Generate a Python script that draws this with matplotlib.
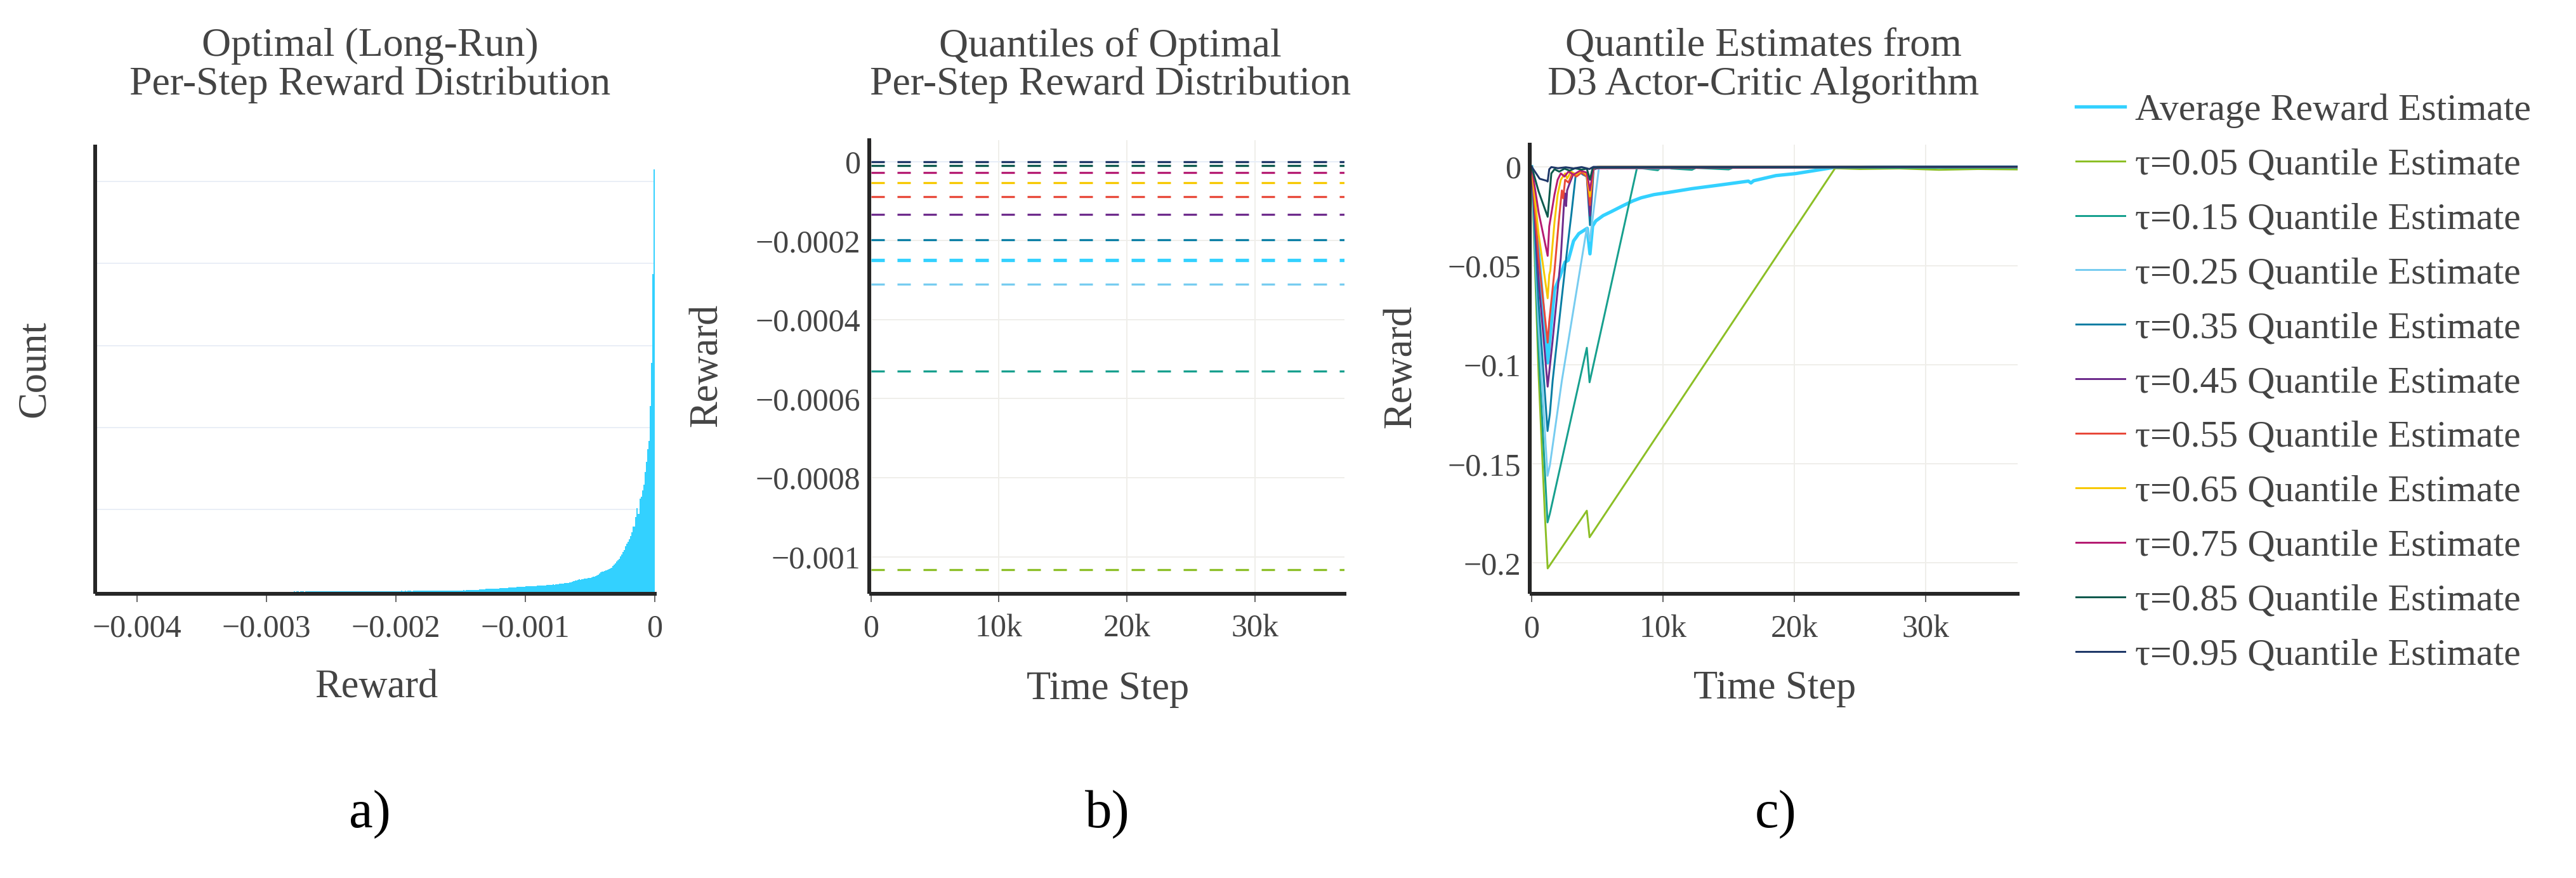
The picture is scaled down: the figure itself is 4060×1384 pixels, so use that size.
import numpy as np
import matplotlib
matplotlib.use("Agg")
import matplotlib.pyplot as plt

plt.rcParams['font.family'] = ['Liberation Serif', 'DejaVu Serif']
plt.rcParams['lines.scale_dashes'] = False

W, H = 4060, 1384
DPI = 100

# ---------------- data ----------------
# a) histogram of per-step reward, counts per bin (bins 1e-5 wide, left to right, last bin ends at 0)
bin_width = 1e-5
hist_counts = [
    0, 1, 0, 1, 1, 0, 1, 1, 1, 0, 1, 1, 1, 2, 1, 1, 1, 2, 1, 2, 2, 1, 2, 2, 2, 1, 2, 2, 3, 2,
    2, 3, 2, 3, 3, 2, 3, 3, 3, 4, 3, 3, 4, 3, 4, 4, 3, 4, 4, 4, 5, 4, 4, 5, 4, 5, 5, 4, 5, 5,
    5, 6, 5, 5, 6, 5, 6, 6, 5, 6, 6, 6, 7, 6, 6, 7, 6, 7, 7, 6,
    7, 7, 6, 7, 8, 7, 7, 8, 7, 8, 8, 8, 7, 8, 9, 8, 8, 9, 8, 9, 9, 8, 9, 10, 9, 9, 10, 9, 10, 10,
    9, 10, 11, 10, 10, 11, 10,
    11, 11, 12, 11, 12, 13, 12, 13, 13, 14, 13, 14, 15, 14, 15, 16, 15,
    16, 17, 18, 17, 19, 20, 21, 20, 22, 23, 24, 25, 27,
    30, 29, 31, 32, 31, 33, 34, 33, 35, 36, 37, 36, 38,
    40, 42, 41, 43, 44, 45, 44, 47, 48, 49, 51, 52, 54,
    57, 56, 58, 59, 58, 60, 61,
    62, 63, 62, 64, 65, 66, 65, 67, 68,
    70, 71, 72, 71, 74, 75, 76, 78, 79, 80,
    82, 84, 86, 85, 88, 90, 92,
    95, 97, 96, 100, 102, 105, 104, 108, 112,
    116, 118, 125, 134, 138, 142,
    147, 145, 150, 153, 156, 158, 160, 164, 166, 170,
    173, 178, 185, 190, 196, 205, 220,
    237, 240, 245, 252, 258, 265,
    276, 282, 292, 310, 330, 345,
    366, 380, 400, 430, 455, 480,
    510, 550, 585, 610, 640,
    675, 720, 790,
    790, 910, 1020, 950, 1130, 1160, 1230, 1300, 1460, 1580, 1740, 1840, 2260, 2790, 3870, 5150,
]
a_xticks = [-0.004, -0.003, -0.002, -0.001, 0]
a_xticklabels = ['\u22120.004', '\u22120.003', '\u22120.002', '\u22120.001', '0']
a_grid_counts = [1000, 2000, 3000, 4000, 5000]

# b) true quantiles of the optimal per-step reward distribution
taus = ['0.05', '0.15', '0.25', '0.35', '0.45', '0.55', '0.65', '0.75', '0.85', '0.95']
true_quantiles = [-0.001032, -0.00053, -0.00031, -0.000198, -0.000134,
                  -0.0000883, -0.0000539, -0.0000278, -0.0000106, -0.000001]
true_avg_reward = -0.00025
b_yticks = [0, -0.0002, -0.0004, -0.0006, -0.0008, -0.001]
b_yticklabels = ['0', '\u22120.0002', '\u22120.0004', '\u22120.0006', '\u22120.0008', '\u22120.001']

time_ticks = [0, 10000, 20000, 30000]
time_ticklabels = ['0', '10k', '20k', '30k']
t_max = 37000

# c) estimates from the D3 actor-critic run (time step, reward)
avg_t = [0, 1220, 1740, 2140, 2540, 2790, 3190, 3590, 4230, 4440, 4640, 4880, 5440, 6090, 6890,
         7700, 8340, 9310, 10430, 12200, 14500, 16500, 16700, 16900, 18600, 20100, 23000, 26000, 37000]
avg_r = [0, -0.099, -0.0621, -0.0557, -0.0482, -0.0472, -0.0375, -0.0338, -0.0311, -0.044, -0.030,
         -0.0274, -0.0247, -0.0226, -0.0199, -0.0173, -0.0157, -0.0141, -0.013, -0.0111, -0.0091,
         -0.0073, -0.0082, -0.0071, -0.0045, -0.0035, -0.0004, -0.00025, -0.00025]

q05_t = [0, 530, 1010, 1220, 4200, 4410, 23100, 25000, 28000, 31000, 34000, 37000]
q05_r = [0, -0.105, -0.176, -0.2027, -0.1736, -0.187, -0.0008, -0.0012, -0.0009, -0.0016, -0.0012, -0.0014]

q15_t = [0, 530, 1210, 1390, 4200, 4410, 8020, 8600, 9600, 9800, 12200, 12500, 15000, 15300, 37000]
q15_r = [0, -0.093, -0.1795, -0.175, -0.0914, -0.1088, -0.0006, -0.0010, -0.0018, -0.0006,
         -0.0016, -0.0006, -0.0014, -0.0006, -0.00053]

q25_t = [0, 530, 1210, 1390, 2300, 4200, 4430, 5120, 10500, 10700, 37000]
q25_r = [0, -0.081, -0.156, -0.1506, -0.108, -0.031, -0.0375, -0.0007, -0.0009, -0.0003, -0.00031]

q35_t = [0, 530, 1210, 1390, 1600, 2220, 2700, 3030, 3350, 3600, 3900, 4200, 4440, 4720, 5200, 37000]
q35_r = [0, -0.069, -0.1334, -0.1245, -0.108, -0.0706, -0.042, -0.0237, -0.0045, -0.0025,
         -0.004, -0.005, -0.0295, -0.0015, -0.0003, -0.0002]

q45_t = [0, 530, 1220, 1580, 1900, 2220, 2460, 2540, 2620, 2700, 2870, 3190, 3500, 3800, 4200,
         4440, 4700, 5200, 37000]
q45_r = [0, -0.057, -0.111, -0.0888, -0.0674, -0.046, -0.019, -0.0135, -0.0199, -0.012, -0.0088,
         -0.0034, -0.0045, -0.0025, -0.004, -0.0247, -0.001, -0.0002, -0.000134]

q55_t = [0, 530, 1220, 1340, 1740, 2060, 2300, 2400, 2550, 2800, 3100, 3400, 3800, 4200, 4440,
         4700, 5100, 37000]
q55_r = [0, -0.046, -0.0888, -0.0781, -0.0525, -0.028, -0.012, -0.016, -0.0066, -0.008, -0.0035,
         -0.005, -0.003, -0.005, -0.0194, -0.001, -0.0002, -0.000088]

q65_t = [0, 530, 1220, 1340, 1420, 1740, 1980, 2220, 2550, 2700, 3000, 3400, 3800, 4200, 4440,
         4700, 5000, 37000]
q65_r = [0, -0.034, -0.0664, -0.0546, -0.0525, -0.028, -0.0141, -0.0066, -0.0034, -0.006, -0.0025,
         -0.004, -0.002, -0.004, -0.015, -0.001, -0.0001, -0.000054]

q75_t = [0, 530, 1220, 1340, 1500, 1740, 1980, 2220, 2500, 2800, 3200, 3700, 4200, 4440, 4700, 37000]
q75_r = [0, -0.023, -0.045, -0.0301, -0.0237, -0.0141, -0.0066, -0.0034, -0.005, -0.0025, -0.004,
         -0.002, -0.003, -0.012, -0.0008, -0.000028]

q85_t = [0, 530, 1220, 1340, 1500, 1740, 2100, 2500, 2900, 3300, 3800, 4200, 4440, 4650, 37000]
q85_r = [0, -0.0125, -0.0253, -0.0157, -0.0034, -0.0013, -0.0025, -0.001, -0.002, -0.0008, -0.0015,
         -0.001, -0.0066, -0.0005, -0.000011]

q95_t = [0, 610, 1130, 1220, 1340, 1500, 2000, 2600, 3200, 3800, 4400, 4700, 37000]
q95_r = [0, -0.0061, -0.0071, -0.0075, -0.0013, -0.0002, -0.0008, -0.0003, -0.0009, -0.0002,
         -0.0012, -0.0001, -0.000002]

c_yticks = [0, -0.05, -0.1, -0.15, -0.2]
c_yticklabels = ['0', '\u22120.05', '\u22120.1', '\u22120.15', '\u22120.2']

legend_labels = ['Average Reward Estimate'] + ['\u03c4=' + t + ' Quantile Estimate' for t in taus]

# ---------------- style ----------------
AVG_COLOR = '#33D1FF'
Q_COLORS = ['#8CBF26', '#17A08E', '#77CCF0', '#0A7EA4', '#6E2C8C',
            '#E8493A', '#F7C800', '#B51C72', '#0E5A4E', '#1F3868']
TEXT = '#444444'
SPINE = '#262626'
GRID = '#EFEEEA'


def pt(px):
    return px * 72 / DPI


def px_rect(x0, x1, y0, y1):
    return [x0 / W, 1 - y1 / H, (x1 - x0) / W, (y1 - y0) / H]


def style_axes(ax):
    for side in ['top', 'right']:
        ax.spines[side].set_visible(False)
    for side in ['left', 'bottom']:
        sp = ax.spines[side]
        sp.set_linewidth(pt(6))
        sp.set_color(SPINE)
        sp.set_capstyle('projecting')
        sp.set_position(('outward', pt(3)))
    ax.tick_params(axis='x', direction='out', length=pt(13), width=pt(1.6), color=TEXT,
                   labelsize=36, labelcolor=TEXT, pad=pt(20))
    ax.tick_params(axis='y', length=0, labelsize=36, labelcolor=TEXT, pad=pt(14))
    ax.set_axisbelow(True)


fig = plt.figure(figsize=(W / DPI, H / DPI), dpi=DPI)

# ---- a) histogram
ax_a = fig.add_axes(px_rect(153, 1032, 231, 932.5))
style_axes(ax_a)
n = len(hist_counts)
edges = (np.arange(n + 1) - n) * bin_width
ax_a.stairs(hist_counts, edges, fill=True, color=AVG_COLOR, linewidth=0)
ax_a.set_xlim(-0.004309, 0)
ax_a.set_ylim(0, 5425)
ax_a.set_xticks(a_xticks)
ax_a.set_xticklabels(a_xticklabels)
ax_a.set_yticks(a_grid_counts)
ax_a.set_yticklabels([])
ax_a.grid(axis='y', color='#E9EEF6', linewidth=pt(2))

# ---- b) true quantiles
ax_b = fig.add_axes(px_rect(1372.7, 2119, 221, 932.5))
style_axes(ax_b)
ax_b.hlines(true_avg_reward, 0, t_max, colors=AVG_COLOR, linewidth=pt(5.3),
            linestyles=[(0, (21 * 0.72, 20 * 0.72))])
for q, c in zip(true_quantiles, Q_COLORS):
    ax_b.hlines(q, 0, t_max, colors=c, linewidth=pt(3.3),
                linestyles=[(0, (21 * 0.72, 20 * 0.72))])
ax_b.set_xlim(0, t_max)
ax_b.set_ylim(-0.001088, 0.0000541)
ax_b.set_xticks(time_ticks)
ax_b.set_xticklabels(time_ticklabels)
ax_b.set_yticks(b_yticks)
ax_b.set_yticklabels(b_yticklabels)
ax_b.grid(True, color=GRID, linewidth=pt(2))
ax_b.get_ygridlines()[0].set_color('#E6EDF7')

# ---- c) estimates
ax_c = fig.add_axes(px_rect(2414, 3180, 228, 932.7))
style_axes(ax_c)
series_t = [q05_t, q15_t, q25_t, q35_t, q45_t, q55_t, q65_t, q75_t, q85_t, q95_t]
series_r = [q05_r, q15_r, q25_r, q35_r, q45_r, q55_r, q65_r, q75_r, q85_r, q95_r]
handles = []
h, = ax_c.plot(avg_t, avg_r, color=AVG_COLOR, linewidth=pt(5.3))
handles.append(h)
for t, r, c in zip(series_t, series_r, Q_COLORS):
    h, = ax_c.plot(t, r, color=c, linewidth=pt(3))
    handles.append(h)
ax_c.set_xlim(0, t_max)
ax_c.set_ylim(-0.21447, 0.01111)
ax_c.set_xticks(time_ticks)
ax_c.set_xticklabels(time_ticklabels)
ax_c.set_yticks(c_yticks)
ax_c.set_yticklabels(c_yticklabels)
ax_c.grid(True, color=GRID, linewidth=pt(2))

fig.legend(handles, legend_labels, loc='upper left', bbox_to_anchor=(3272 / W, 1 - 147 / H),
           frameon=False, fontsize=43, handlelength=77 / 59.7, handletextpad=16 / 59.7,
           labelspacing=0.52, borderpad=0, borderaxespad=0, labelcolor=TEXT)

# ---- titles and labels
def ftext(x, y, s, **kw):
    fig.text(x / W, 1 - y / H, s, ha='center', va='center', **kw)

ftext(583, 103.5, 'Optimal (Long-Run)\nPer-Step Reward Distribution', fontsize=46, color=TEXT, linespacing=1.05)
ftext(1750, 103.5, 'Quantiles of Optimal\nPer-Step Reward Distribution', fontsize=46, color=TEXT, linespacing=1.05)
ftext(2779, 103.5, 'Quantile Estimates from\nD3 Actor-Critic Algorithm', fontsize=46, color=TEXT, linespacing=1.05)

ftext(593, 1084, 'Reward', fontsize=45, color=TEXT)
ftext(1746, 1087, 'Time Step', fontsize=45, color=TEXT)
ftext(2797, 1086, 'Time Step', fontsize=45, color=TEXT)
ftext(55, 582, 'Count', fontsize=45, color=TEXT, rotation=90)
ftext(1114, 576, 'Reward', fontsize=45, color=TEXT, rotation=90)
ftext(2208, 578, 'Reward', fontsize=45, color=TEXT, rotation=90)

ftext(583, 1284, 'a)', fontsize=61, color='black')
ftext(1745, 1284, 'b)', fontsize=61, color='black')
ftext(2799, 1284, 'c)', fontsize=61, color='black')

fig.savefig('out.png', dpi=DPI)
